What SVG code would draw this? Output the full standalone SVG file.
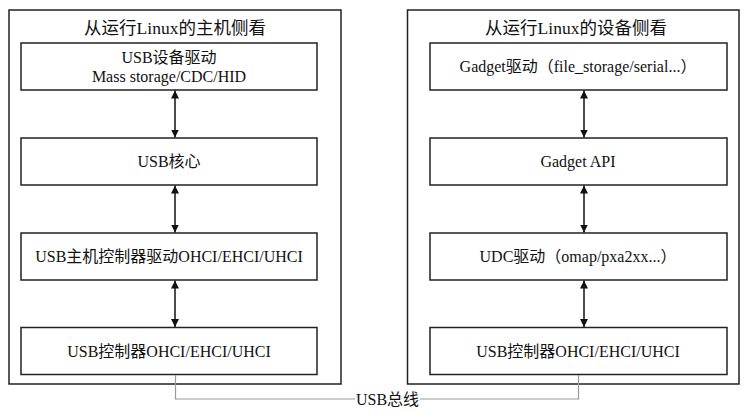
<svg xmlns="http://www.w3.org/2000/svg" width="751" height="419" viewBox="0 0 751 419">
<style>
.outer{fill:#fff;stroke:#222;stroke-width:1.5}
.box{fill:#fff;stroke:#222;stroke-width:1.5}
text{font-family:"Liberation Serif","Noto Sans CJK SC",serif;fill:#111;text-anchor:middle}
.t{font-size:16px}
.title{font-size:17.5px}
.arr{stroke:#111;stroke-width:1.5;fill:none;marker-start:url(#ah);marker-end:url(#ah)}
.bus{stroke:#999;stroke-width:1.2;fill:none}
</style>
<defs>
<marker id="ah" viewBox="0 0 8 8" refX="8" refY="4" markerWidth="8" markerHeight="8" markerUnits="userSpaceOnUse" orient="auto-start-reverse">
<path d="M0,0 L8,4 L0,8 z" fill="#111"/>
</marker>
</defs>
<rect width="751" height="419" fill="#fff"/>
<g id="host">
<rect class="outer" x="9" y="10" width="332" height="374"/>
<text class="title" x="175" y="34">从运行Linux的主机侧看</text>
</g>
<g id="device">
<rect class="outer" x="407.5" y="10" width="331.5" height="374"/>
<text class="title" x="576" y="34">从运行Linux的设备侧看</text>
</g>
<g id="host-driver">
<rect class="box" x="21" y="43" width="296" height="47"/>
<text class="t" x="169" y="63">USB设备驱动</text>
<text class="t" x="169" y="82">Mass storage/CDC/HID</text>
</g>
<g id="host-core">
<rect class="box" x="21" y="138" width="296" height="47"/>
<text class="t" x="169" y="167">USB核心</text>
</g>
<g id="host-hcd">
<rect class="box" x="21" y="233" width="296" height="47"/>
<text class="t" x="169" y="262">USB主机控制器驱动OHCI/EHCI/UHCI</text>
</g>
<g id="host-ctrl">
<rect class="box" x="21" y="327.5" width="296" height="47"/>
<text class="t" x="169" y="357">USB控制器OHCI/EHCI/UHCI</text>
</g>
<g id="dev-gadget">
<rect class="box" x="430" y="43" width="297" height="47"/>
<text class="t" x="578" y="72">Gadget驱动（file_storage/serial...）</text>
</g>
<g id="dev-api">
<rect class="box" x="430" y="138" width="297" height="47"/>
<text class="t" x="578" y="167">Gadget API</text>
</g>
<g id="dev-udc">
<rect class="box" x="430" y="233" width="297" height="47"/>
<text class="t" x="578" y="262">UDC驱动（omap/pxa2xx...）</text>
</g>
<g id="dev-ctrl">
<rect class="box" x="430" y="327.5" width="297" height="47"/>
<text class="t" x="578" y="357">USB控制器OHCI/EHCI/UHCI</text>
</g>
<g id="connectors">
<line class="arr" x1="175" y1="90.5" x2="175" y2="137.5"/>
<line class="arr" x1="175" y1="185.5" x2="175" y2="232.5"/>
<line class="arr" x1="175" y1="280.5" x2="175" y2="327"/>
<line class="arr" x1="584" y1="90.5" x2="584" y2="137.5"/>
<line class="arr" x1="584" y1="185.5" x2="584" y2="232.5"/>
<line class="arr" x1="584" y1="280.5" x2="584" y2="327"/>
<polyline class="bus" points="175.5,375 175.5,399 355,399"/>
<polyline class="bus" points="420,399 578.5,399 578.5,375"/>
<text class="t" x="387.5" y="405">USB总线</text>
</g>
</svg>
